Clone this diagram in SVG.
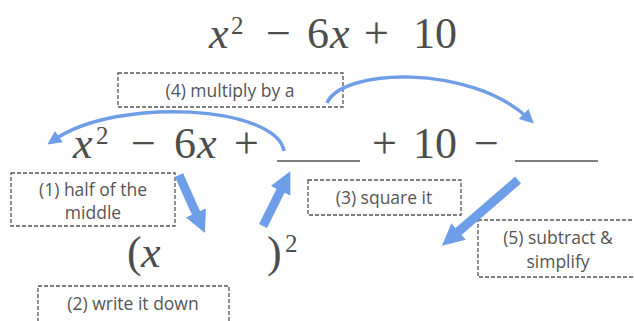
<svg xmlns="http://www.w3.org/2000/svg" width="634" height="321" viewBox="0 0 634 321">
<style>
.m{font-family:"Liberation Serif","DejaVu Serif",serif;fill:#4d4d4d;font-size:44px}
.i{font-style:italic}
.s{font-size:25px}
.lbl{font-family:"Open Sans","Liberation Sans",sans-serif;fill:#555;font-size:17.5px;text-anchor:middle}
.box{fill:none;stroke:#555;stroke-width:1.3;stroke-dasharray:4 2}
.blank{stroke:#555;stroke-width:1.5}
.thick{stroke:#6f9ee8;stroke-width:9;fill:none;marker-end:url(#ah)}
.thin{stroke:#6f9ee8;stroke-width:3.5;fill:none;marker-end:url(#ahs)}
</style>
<defs>
<marker id="ah" markerUnits="userSpaceOnUse" markerWidth="22" markerHeight="22" refX="10" refY="11" orient="auto" viewBox="0 0 22 22"><path d="M0,0 L22,11 L0,22 z" fill="#6f9ee8"/></marker>
<marker id="ahs" markerUnits="userSpaceOnUse" markerWidth="14" markerHeight="14" refX="6" refY="7" orient="auto" viewBox="0 0 14 14"><path d="M0,0 L14,7 L0,14 z" fill="#6f9ee8"/></marker>
</defs>
<g id="expr-top">
<text class="m" y="48"><tspan x="209" class="i">x</tspan><tspan x="231" y="34" class="s">2</tspan><tspan x="266" y="48">−</tspan><tspan x="307">6</tspan><tspan x="330" class="i">x</tspan><tspan x="364">+</tspan><tspan x="413">10</tspan></text>
</g>
<g id="expr-mid">
<text class="m" y="158"><tspan x="73" class="i">x</tspan><tspan x="96" y="144" class="s">2</tspan><tspan x="131" y="158">−</tspan><tspan x="174">6</tspan><tspan x="197" class="i">x</tspan><tspan x="234">+</tspan><tspan x="372">+</tspan><tspan x="413">10</tspan><tspan x="474">−</tspan></text>
<line class="blank" x1="277" y1="161" x2="360" y2="161"/>
<line class="blank" x1="515" y1="161" x2="598" y2="161"/>
</g>
<g id="expr-bottom">
<text class="m" y="267"><tspan x="127">(</tspan><tspan x="141" class="i">x</tspan><tspan x="267">)</tspan><tspan x="285" y="252" class="s">2</tspan></text>
</g>
<g id="step4">
<rect class="box" x="118" y="73" width="225" height="34"/>
<text class="lbl" x="230" y="97">(4) multiply by a</text>
</g>
<g id="step1">
<rect class="box" x="11" y="173" width="164" height="53"/>
<text class="lbl" x="93" y="196">(1) half of the</text>
<text class="lbl" x="93" y="219">middle</text>
</g>
<g id="step2">
<rect class="box" x="38" y="286" width="191" height="40"/>
<text class="lbl" x="133" y="310">(2) write it down</text>
</g>
<g id="step3">
<rect class="box" x="308" y="180" width="153" height="35"/>
<text class="lbl" x="384" y="204">(3) square it</text>
</g>
<g id="step5">
<rect class="box" x="478" y="220" width="160" height="57"/>
<text class="lbl" x="558" y="244">(5) subtract &amp;</text>
<text class="lbl" x="558" y="268">simplify</text>
</g>
<g id="connectors">
<path class="thin" d="M284 151 C276 106 118 96 54 140"/>
<path class="thin" d="M327 103 C342 68 470 64 528 118"/>
<path class="thick" d="M179 175 L200 222"/>
<path class="thick" d="M263 226 L285 182"/>
<path class="thick" d="M518 180 L451 238"/>
</g>
</svg>
